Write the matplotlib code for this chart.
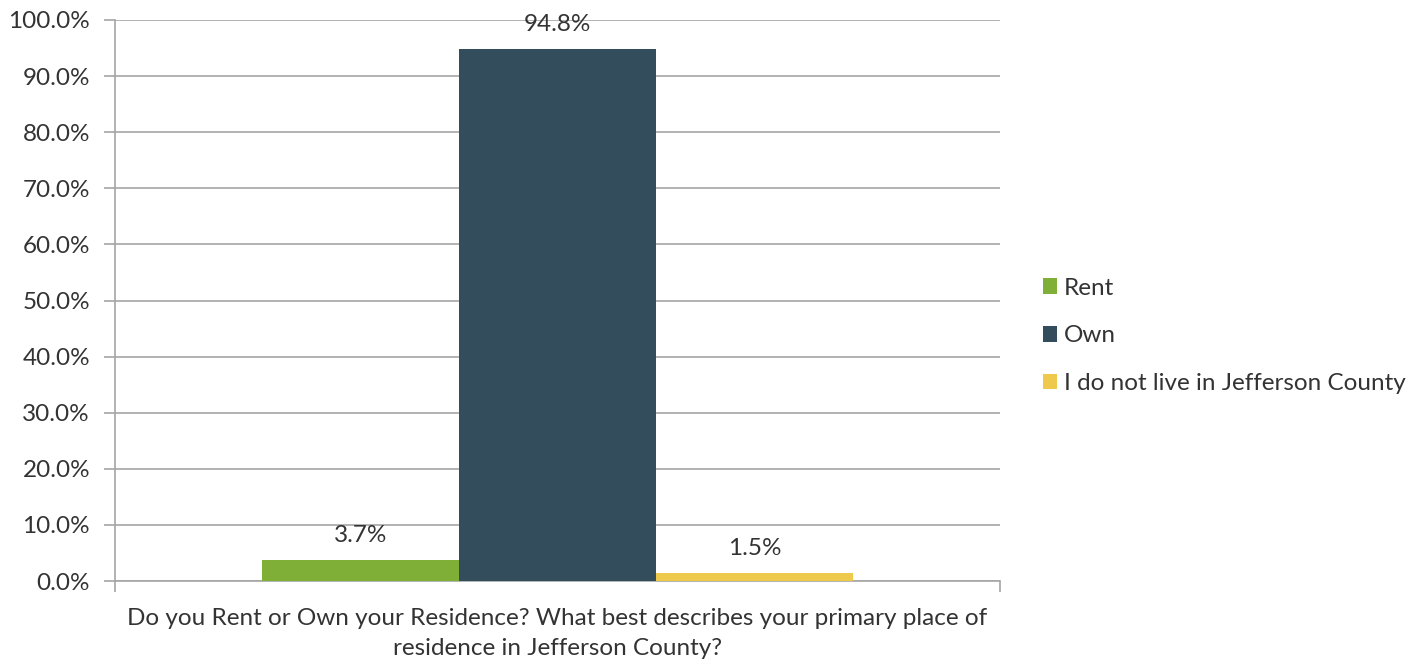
import matplotlib.pyplot as plt
import numpy as np
from matplotlib.ticker import PercentFormatter

plt.rcParams['font.family'] = ['Lato', 'DejaVu Sans']

# data
category = "Do you Rent or Own your Residence? What best describes your primary place of\nresidence in Jefferson County?"
series = ["Rent", "Own", "I do not live in Jefferson County"]
values = [3.7, 94.8, 1.5]
colors = ["#80AF37", "#334D5C", "#EFC94C"]

text_col = "#333333"
grid_col = "#A6A6A6"
fs = 17.5

fig = plt.figure(figsize=(14.25, 6.64), dpi=100)
ax = fig.add_axes([115/1425, 1-581/664, 885/1425, 561/664])

w = 0.2226
offsets = np.array([-1, 0, 1]) * w
for i, (name, v, c) in enumerate(zip(series, values, colors)):
    ax.bar(0.5 + offsets[i], v, width=w, color=c, label=name, zorder=3)
    ax.annotate(f"{v:.1f}%", (0.5 + offsets[i], v), xytext=(0, 10),
                textcoords="offset points", ha="center", va="bottom",
                fontsize=fs, color=text_col)

ax.set_xlim(0, 1)
ax.set_ylim(0, 100)
ax.set_yticks(np.arange(0, 101, 10))
ax.yaxis.set_major_formatter(PercentFormatter(decimals=1))
ax.grid(axis="y", color=grid_col, lw=1.2, zorder=0)

# category edges get tick marks, category name goes in the label
ax.set_xticks([0, 1])
ax.set_xticklabels([])
ax.set_xlabel(category, fontsize=fs, color=text_col, linespacing=1.55, labelpad=8)
ax.tick_params(axis="x", length=8, width=1.2, color=grid_col)
ax.tick_params(axis="y", length=8, width=1.2, color=grid_col, pad=10, labelsize=fs, labelcolor=text_col)

for s in ["top", "right"]:
    ax.spines[s].set_visible(False)
for s in ["left", "bottom"]:
    ax.spines[s].set_color(grid_col)
    ax.spines[s].set_linewidth(1.2)

fig.legend(loc="center left", bbox_to_anchor=(1021/1425, 1-336/664), frameon=False,
           handlelength=0.6, handleheight=0.6, handletextpad=0.25, labelspacing=1.1,
           fontsize=fs, labelcolor=text_col)

fig.savefig("out.png", dpi=100)
